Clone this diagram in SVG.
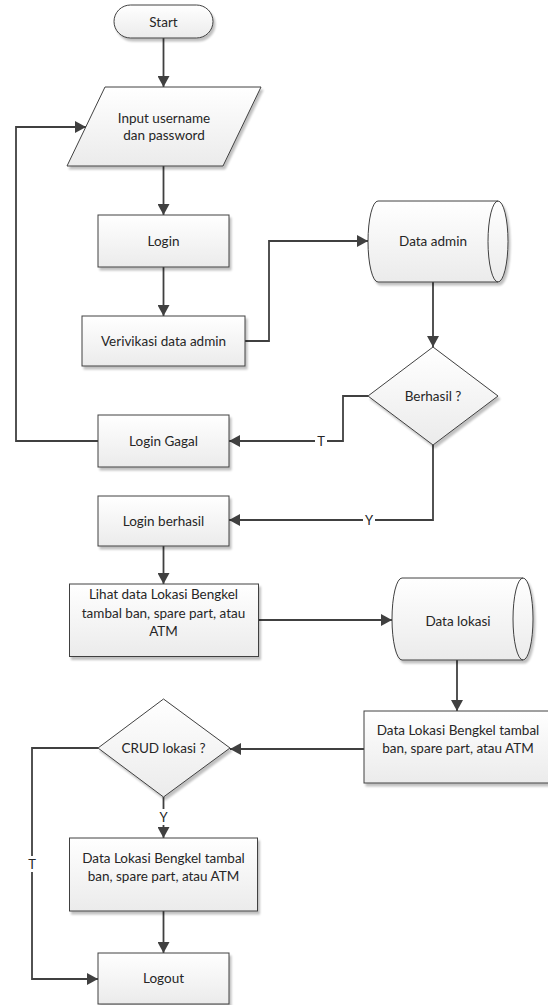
<svg xmlns="http://www.w3.org/2000/svg" width="548" height="1005" viewBox="0 0 548 1005">
<defs>
<style>
.shape{fill:url(#g);stroke:#404040;stroke-width:1;filter:url(#sh)}
.lbl{font-family:Lato,"Liberation Sans",sans-serif;font-size:13.5px;fill:#262626;text-anchor:middle}
.cn{fill:none;stroke:#404040;stroke-width:1.8;stroke-linejoin:miter}
.arr{marker-end:url(#ah)}
.yt{font-family:Lato,"Liberation Sans",sans-serif;font-size:13px;fill:#262626;text-anchor:middle}
</style>
<linearGradient id="g" x1="0" y1="0" x2="0" y2="1">
<stop offset="0" stop-color="#ffffff"/>
<stop offset="1" stop-color="#ebebeb"/>
</linearGradient>
<filter id="sh" x="-10%" y="-10%" width="130%" height="130%">
<feGaussianBlur in="SourceAlpha" stdDeviation="1.2"/>
<feOffset dx="2" dy="2.5" result="b"/>
<feComponentTransfer><feFuncA type="linear" slope="0.25"/></feComponentTransfer>
<feMerge><feMergeNode/><feMergeNode in="SourceGraphic"/></feMerge>
</filter>
<marker id="ah" markerWidth="12" markerHeight="12" viewBox="0 0 12 12" refX="11" refY="6" orient="auto" markerUnits="userSpaceOnUse">
<path d="M0,0 L11,6 L0,12 Z" fill="#404040"/>
</marker>
</defs>
<rect width="548" height="1005" fill="#ffffff"/>

<g id="connectors">
<path class="cn arr" d="M163.5,38 V87"/>
<path class="cn arr" d="M163.5,166 V215"/>
<path class="cn arr" d="M163.5,267 V316"/>
<path class="cn arr" d="M245,341 H269 V241 H368"/>
<path class="cn arr" d="M433,282 V347"/>
<path class="cn arr" d="M368,396 H343 V441 H229"/>
<path class="cn arr" d="M433,445 V520 H229"/>
<path class="cn arr" d="M98,441 H16 V127 H86"/>
<path class="cn arr" d="M163.5,546 V584"/>
<path class="cn arr" d="M258,620 H392"/>
<path class="cn arr" d="M457,660 V711"/>
<path class="cn arr" d="M364,749 H230"/>
<path class="cn arr" d="M163.5,797 V838"/>
<path class="cn arr" d="M98,748 H32 V979 H98"/>
<path class="cn arr" d="M163.5,911 V953"/>
<rect x="315" y="433" width="12" height="16" fill="#ffffff"/>
<text class="yt" x="321" y="446">T</text>
<rect x="363" y="512" width="12" height="16" fill="#ffffff"/>
<text class="yt" x="369" y="525">Y</text>
<rect x="157" y="809" width="13" height="16" fill="#ffffff"/>
<text class="yt" x="163.5" y="822">Y</text>
<rect x="26" y="856" width="12" height="16" fill="#ffffff"/>
<text class="yt" x="32" y="869">T</text>
</g>

<g id="start">
<rect class="shape" x="114" y="5" width="99" height="33" rx="16.5" ry="16.5"/>
<text class="lbl" x="163.5" y="26.5">Start</text>
</g>

<g id="input">
<path class="shape" d="M105,87 H261 L223,166 H67 Z"/>
<text class="lbl" x="164" y="123">Input username</text>
<text class="lbl" x="164" y="140">dan password</text>
</g>

<g id="login">
<rect class="shape" x="98" y="215" width="131" height="52"/>
<text class="lbl" x="163.5" y="246">Login</text>
</g>

<g id="verifikasi">
<rect class="shape" x="82" y="316" width="163" height="50"/>
<text class="lbl" x="163.5" y="346">Verivikasi data admin</text>
</g>

<g id="data-admin">
<path class="shape" d="M378,201 H498 A10,40.5 0 0 1 498,282 H378 A10,40.5 0 0 1 378,201 Z"/>
<path d="M498,201 A10,40.5 0 0 0 498,282" fill="none" stroke="#404040" stroke-width="1"/>
<text class="lbl" x="433" y="246">Data admin</text>
</g>

<g id="berhasil">
<path class="shape" d="M433,347 L498,396 L433,445 L368,396 Z"/>
<text class="lbl" x="433" y="401">Berhasil ?</text>
</g>

<g id="login-gagal">
<rect class="shape" x="98" y="415" width="131" height="52"/>
<text class="lbl" x="163.5" y="446">Login Gagal</text>
</g>

<g id="login-berhasil">
<rect class="shape" x="98" y="496" width="131" height="50"/>
<text class="lbl" x="163.5" y="526">Login berhasil</text>
</g>

<g id="lihat-data">
<rect class="shape" x="69.5" y="584" width="189" height="72.5"/>
<text class="lbl" x="163.5" y="599">Lihat data Lokasi Bengkel</text>
<text class="lbl" x="163.5" y="618">tambal ban, spare part, atau</text>
<text class="lbl" x="163.5" y="636">ATM</text>
</g>

<g id="data-lokasi">
<path class="shape" d="M402,578 H523 A10,41 0 0 1 523,660 H402 A10,41 0 0 1 402,578 Z"/>
<path d="M523,578 A10,41 0 0 0 523,660" fill="none" stroke="#404040" stroke-width="1"/>
<text class="lbl" x="458" y="626">Data lokasi</text>
</g>

<g id="data-lokasi-box">
<rect class="shape" x="364" y="711" width="187" height="72"/>
<text class="lbl" x="458" y="735">Data Lokasi Bengkel tambal</text>
<text class="lbl" x="458" y="753">ban, spare part, atau ATM</text>
</g>

<g id="crud">
<path class="shape" d="M163.5,699 L230,748 L163.5,797 L98,748 Z"/>
<text class="lbl" x="163.5" y="753">CRUD lokasi ?</text>
</g>

<g id="data-lokasi-result">
<rect class="shape" x="69.5" y="838" width="188" height="73"/>
<text class="lbl" x="163.5" y="863">Data Lokasi Bengkel tambal</text>
<text class="lbl" x="163.5" y="881">ban, spare part, atau ATM</text>
</g>

<g id="logout">
<rect class="shape" x="98" y="953" width="131" height="51"/>
<text class="lbl" x="163.5" y="983">Logout</text>
</g>
</svg>
